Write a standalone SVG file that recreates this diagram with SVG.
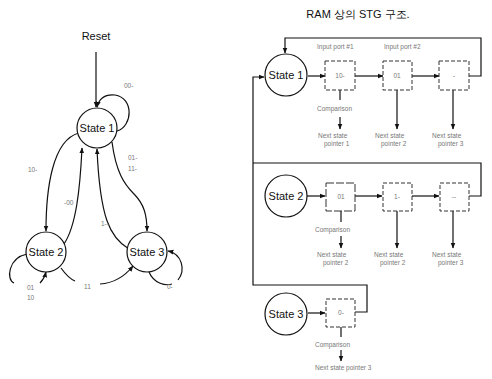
<svg xmlns="http://www.w3.org/2000/svg" width="492" height="379" viewBox="0 0 492 379">
<style>
.st{fill:#fff;stroke:#111;stroke-width:1.2}
.bx{fill:#fff;stroke:#333;stroke-width:1;stroke-dasharray:4 2}
.ln{fill:none;stroke:#111;stroke-width:1.2}
.t{font-family:"Liberation Sans",Arial,sans-serif;fill:#111}
.big{font-size:11px}
.sm{font-size:6.5px;fill:#777}
</style>
<defs>
<marker id="ah" viewBox="0 0 10 10" refX="9" refY="5" markerWidth="6" markerHeight="6" orient="auto" markerUnits="userSpaceOnUse">
<path d="M0,1 L10,5 L0,9 z" fill="#111"/>
</marker>
</defs>
<rect width="492" height="379" fill="#fff"/>

<g id="connectors">
<!-- left STG -->
<path class="ln" d="M96,52 L96,107" marker-end="url(#ah)"/>
<path class="ln" d="M117,131 C133,126 134,98 115,95 C105,94 99,99 97,107" marker-end="url(#ah)"/>
<path class="ln" d="M79,133 C52,140 46,190 46,231" marker-end="url(#ah)"/>
<path class="ln" d="M64,244 C76,226 80,190 82,148" marker-end="url(#ah)"/>
<path class="ln" d="M129,249 C110,238 100,218 97,149" marker-end="url(#ah)"/>
<path class="ln" d="M112,142 C116,172 124,184 134,194 C144,204 147,215 147,231" marker-end="url(#ah)"/>
<path class="ln" d="M27,254 C8,258 6,280 14,283"/>
<path class="ln" d="M40,283 C43,280 45,276 46,272" marker-end="url(#ah)"/>
<path class="ln" d="M149,272 C154,284 166,286 172,284"/>
<path class="ln" d="M178,280 C186,270 182,254 168,251" marker-end="url(#ah)"/>
<path class="ln" d="M61,268 C66,275 70,279 75,281"/>
<path class="ln" d="M100,284 C115,283 125,276 133,266" marker-end="url(#ah)"/>

<!-- right: RAM structure -->
<path class="ln" d="M469,76 L481,76 L481,38 L285,38 L285,53" marker-end="url(#ah)"/>
<path class="ln" d="M308,76 L325,76" marker-end="url(#ah)"/>
<path class="ln" d="M355,76 L383,76" marker-end="url(#ah)"/>
<path class="ln" d="M412,76 L439,76" marker-end="url(#ah)"/>
<path class="ln" d="M340,90 L340,100"/>
<path class="ln" d="M340,117 L340,129" marker-end="url(#ah)"/>
<path class="ln" d="M397,90 L397,129" marker-end="url(#ah)"/>
<path class="ln" d="M453,90 L453,129" marker-end="url(#ah)"/>

<path class="ln" d="M355,312 L367,312 L367,285 L253,285 L253,77 L264,77" marker-end="url(#ah)"/>
<path class="ln" d="M469,196 L481,196 L481,163 L253,163"/>
<path class="ln" d="M307,196 L325,196" marker-end="url(#ah)"/>
<path class="ln" d="M355,196 L382,196" marker-end="url(#ah)"/>
<path class="ln" d="M412,196 L439,196" marker-end="url(#ah)"/>
<path class="ln" d="M341,211 L341,222"/>
<path class="ln" d="M341,236 L341,248" marker-end="url(#ah)"/>
<path class="ln" d="M397,211 L397,248" marker-end="url(#ah)"/>
<path class="ln" d="M453,211 L453,248" marker-end="url(#ah)"/>

<path class="ln" d="M308,313 L325,313" marker-end="url(#ah)"/>
<path class="ln" d="M341,327 L341,337"/>
<path class="ln" d="M341,350 L341,361" marker-end="url(#ah)"/>
</g>

<!-- left graph labels -->
<g id="labels-left">
<text class="t big" x="96" y="40" text-anchor="middle">Reset</text>
<text class="t sm" x="124" y="88">00-</text>
<text class="t sm" x="28" y="172">10-</text>
<text class="t sm" x="64" y="205">-00</text>
<text class="t sm" x="101" y="226">1--</text>
<text class="t sm" x="128" y="160">01-</text>
<text class="t sm" x="128" y="171">11-</text>
<text class="t sm" x="84" y="289">11</text>
<text class="t sm" x="167" y="289">0-</text>
<text class="t sm" x="27" y="290">01</text>
<text class="t sm" x="27" y="300">10</text>
</g>

<g id="state1-left">
<circle class="st" cx="97" cy="128" r="20"/>
<text class="t big" x="97" y="132" text-anchor="middle">State 1</text>
</g>
<g id="state2-left">
<circle class="st" cx="46" cy="252" r="20"/>
<text class="t big" x="46" y="256" text-anchor="middle">State 2</text>
</g>
<g id="state3-left">
<circle class="st" cx="147" cy="252" r="20"/>
<text class="t big" x="147" y="256" text-anchor="middle">State 3</text>
</g>

<!-- right diagram -->
<text class="t" x="358" y="18" text-anchor="middle" font-size="11" font-family="'Liberation Sans','Noto Sans CJK KR',sans-serif">RAM 상의 STG 구조.</text>
<text class="t sm" x="317" y="49">Input port #1</text>
<text class="t sm" x="384" y="49">Input port #2</text>

<g id="ram-state1">
<circle class="st" cx="286" cy="75" r="21"/>
<text class="t big" x="286" y="79" text-anchor="middle">State 1</text>
</g>
<g id="r1-box1"><rect class="bx" x="325" y="61" width="30" height="29"/><text class="t sm" x="340" y="78" text-anchor="middle">10-</text></g>
<g id="r1-box2"><rect class="bx" x="383" y="61" width="29" height="29"/><text class="t sm" x="397" y="78" text-anchor="middle">01</text></g>
<g id="r1-box3"><rect class="bx" x="439" y="61" width="30" height="29"/><text class="t sm" x="454" y="78" text-anchor="middle">-</text></g>
<text class="t sm" x="317" y="111">Comparison</text>
<text class="t sm" x="318" y="138">Next state</text><text class="t sm" x="324" y="146">pointer 1</text>
<text class="t sm" x="375" y="138">Next state</text><text class="t sm" x="381" y="146">pointer 2</text>
<text class="t sm" x="432" y="138">Next state</text><text class="t sm" x="438" y="146">pointer 3</text>

<g id="ram-state2">
<circle class="st" cx="286" cy="196" r="21"/>
<text class="t big" x="286" y="200" text-anchor="middle">State 2</text>
</g>
<g id="r2-box1"><rect class="bx" x="326" y="183" width="29" height="28" style="stroke-dasharray:8 2"/><text class="t sm" x="341" y="199" text-anchor="middle">01</text></g>
<g id="r2-box2"><rect class="bx" x="383" y="183" width="29" height="28"/><text class="t sm" x="397" y="199" text-anchor="middle">1-</text></g>
<g id="r2-box3"><rect class="bx" x="440" y="183" width="29" height="28"/><text class="t sm" x="454" y="199" text-anchor="middle">--</text></g>
<text class="t sm" x="315" y="232">Comparison</text>
<text class="t sm" x="317" y="257">Next state</text><text class="t sm" x="323" y="265">pointer 2</text>
<text class="t sm" x="374" y="257">Next state</text><text class="t sm" x="380" y="265">pointer 2</text>
<text class="t sm" x="432" y="257">Next state</text><text class="t sm" x="438" y="265">pointer 3</text>

<g id="ram-state3">
<circle class="st" cx="286" cy="314" r="21"/>
<text class="t big" x="286" y="318" text-anchor="middle">State 3</text>
</g>
<g id="r3-box1"><rect class="bx" x="326" y="299" width="29" height="28"/><text class="t sm" x="341" y="315" text-anchor="middle">0-</text></g>
<text class="t sm" x="315" y="347">Comparison</text>
<text class="t sm" x="315" y="370">Next state pointer 3</text>
</svg>
